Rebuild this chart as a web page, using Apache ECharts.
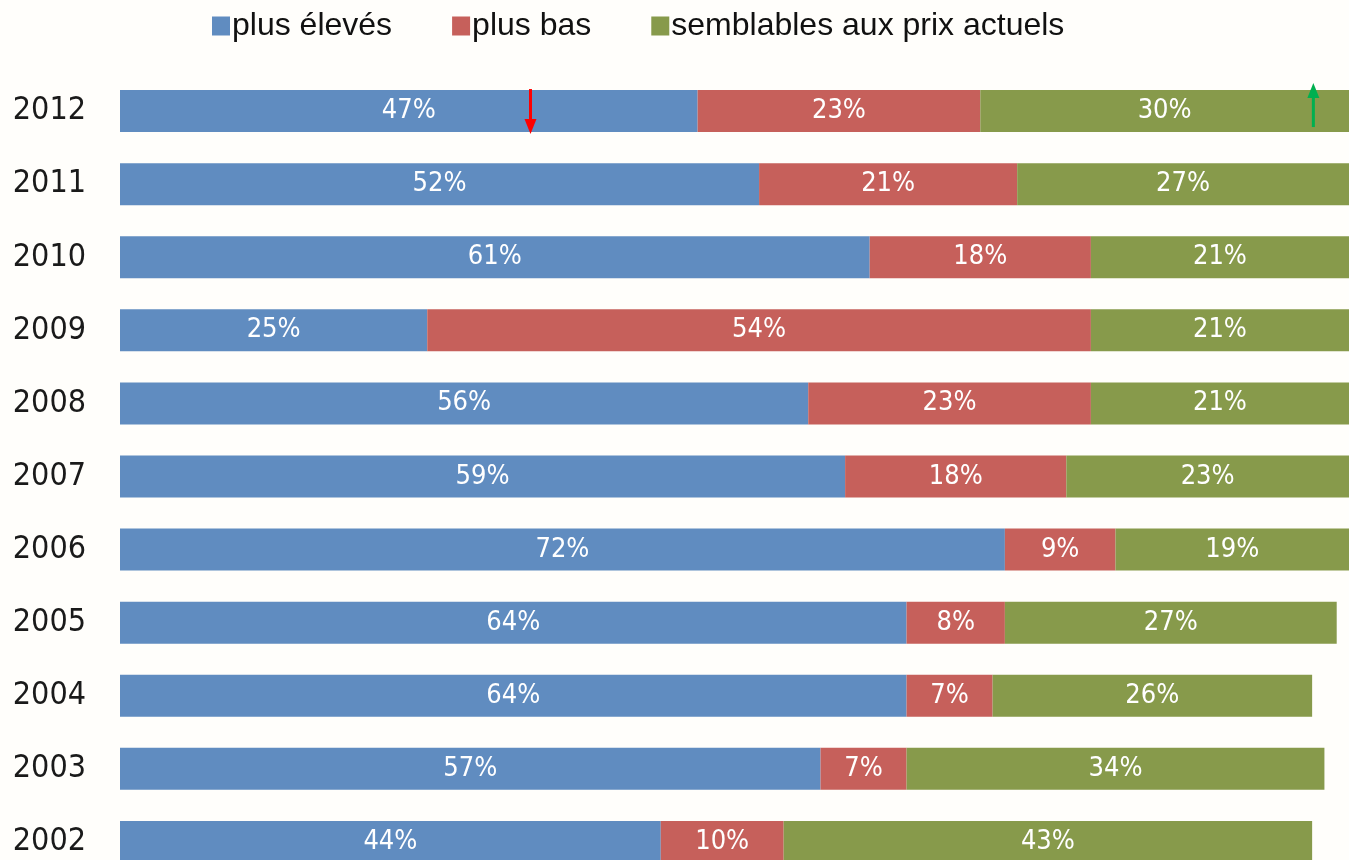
<!DOCTYPE html>
<html><head><meta charset="utf-8">
<script src="https://cdn.jsdelivr.net/npm/echarts@6/dist/echarts.min.js"></script>
<style>html,body{margin:0;padding:0;background:#FFFEFB;overflow:hidden;}#c{width:1349px;height:900px;}</style>
</head><body><div id="c"></div>
<script>
const years = ['2012','2011','2010','2009','2008','2007','2006','2005','2004','2003','2002'];
const plusEleves = [47,52,61,25,56,59,72,64,64,57,44];
const plusBas = [23,21,18,54,23,18,9,8,7,7,10];
const semblables = [30,27,21,21,21,23,19,27,26,34,43];
const seriesNames = ['plus élevés','plus bas','semblables aux prix actuels'];
const colors = ['#608CC0','#C6605B','#879A4B'];
const arrows = [{year:'2012', x:33.4, dir:'down', color:'#FF0000'},{year:'2012', x:97.1, dir:'up', color:'#00B050'}];

const narrow = '"Liberation Sans Narrow","DejaVu Sans Condensed",sans-serif';
const chart = echarts.init(document.getElementById('c'));
const mk = (name, data, i) => ({
  name, type:'bar', stack:'t', data, barWidth:42,
  itemStyle:{color:colors[i]},
  label:{show:true, position:'inside', color:'#fff', fontFamily:narrow, fontSize:27, formatter:'{c}%'}
});
chart.setOption({
  backgroundColor:'#FFFEFB',
  animation:false,
  legend:{left:207, top:5, itemWidth:18, itemHeight:19, itemGap:60,
    textStyle:{fontFamily:'"Liberation Sans",Arial,sans-serif', fontSize:32, color:'#111', padding:[0,0,0,-3]},
    icon:'rect', data:seriesNames},
  grid:{left:120, top:74.5, width:1230, height:804},
  xAxis:{type:'value', min:0, max:100, show:false},
  yAxis:{type:'category', data:years, inverse:true,
    axisLine:{show:false}, axisTick:{show:false},
    axisLabel:{fontFamily:narrow, fontSize:32, color:'#1a1a1a', margin:34}},
  series:[mk(seriesNames[0],plusEleves,0), mk(seriesNames[1],plusBas,1), mk(seriesNames[2],semblables,2)]
});
const g = [];
arrows.forEach(a=>{
  const p = chart.convertToPixel({gridIndex:0}, [a.x, a.year]);
  if (a.dir==='down') {
    const top = p[1]-22, bot = p[1]+23;
    g.push({type:'line', z:100, shape:{x1:p[0],y1:top,x2:p[0],y2:bot-12}, style:{stroke:a.color,lineWidth:3}});
    g.push({type:'polygon', z:100, shape:{points:[[p[0]-6,bot-15],[p[0]+6,bot-15],[p[0],bot]]}, style:{fill:a.color}});
  } else {
    const t = p[1]-28, b = p[1]+16;
    g.push({type:'line', z:100, shape:{x1:p[0],y1:b,x2:p[0],y2:t+12}, style:{stroke:a.color,lineWidth:3}});
    g.push({type:'polygon', z:100, shape:{points:[[p[0]-6,t+15],[p[0]+6,t+15],[p[0],t]]}, style:{fill:a.color}});
  }
});
chart.setOption({graphic:g});
</script></body></html>
